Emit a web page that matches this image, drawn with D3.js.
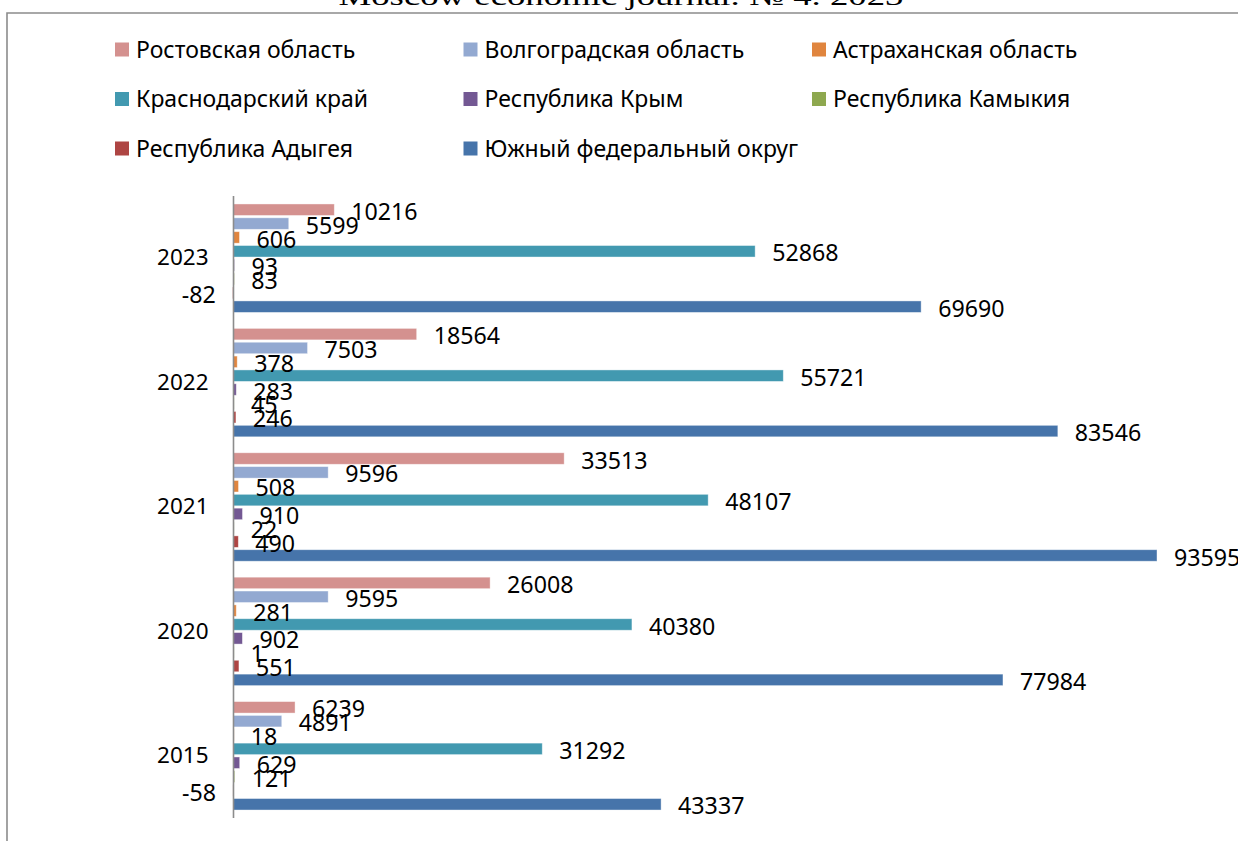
<!DOCTYPE html>
<html><head><meta charset="utf-8">
<script src="https://cdn.jsdelivr.net/npm/d3@7"></script>
<style>body{margin:0;background:#fff}svg{display:block}</style>
</head><body><svg id="c" width="1238" height="841"></svg>
<script>
const categories = ["2023", "2022", "2021", "2020", "2015"];
const seriesNames = ["Ростовская область", "Волгоградская область", "Астраханская область",
  "Краснодарский край", "Республика Крым", "Республика Камыкия", "Республика Адыгея",
  "Южный федеральный округ"];
const seriesColors = ["#D4918F", "#93A9D1", "#E0853E", "#4299B0", "#735893", "#8EA84F", "#AE4543", "#4674AA"];
// values per series, in category order 2023, 2022, 2021, 2020, 2015
const rostov     = [10216, 18564, 33513, 26008, 6239];
const volgograd  = [5599, 7503, 9596, 9595, 4891];
const astrakhan  = [606, 378, 508, 281, 18];
const krasnodar  = [52868, 55721, 48107, 40380, 31292];
const crimea     = [93, 283, 910, 902, 629];
const kalmykia   = [83, 45, 22, 1, 121];
const adygea     = [-82, 246, 490, 551, -58];
const southFD    = [69690, 83546, 93595, 77984, 43337];
const titleText = "Moscow economic journal. № 4. 2023";

const seriesValues = [rostov, volgograd, astrakhan, krasnodar, crimea, kalmykia, adygea, southFD];
const svg = d3.select("#c");
const FONT = "'Noto Sans', 'Open Sans', sans-serif";

// clipped title at the very top
svg.append("text").attr("x", 621).attr("y", 5).attr("text-anchor", "middle")
  .attr("font-family", "'Liberation Serif', 'Times New Roman', serif").attr("font-size", 26)
  .attr("textLength", 565).attr("lengthAdjust", "spacingAndGlyphs")
  .attr("fill", "#000").text(titleText);

// frame
svg.append("path").attr("d", "M7,841 L7,13 L1238,13").attr("fill", "none")
  .attr("stroke", "#8c8c8c").attr("stroke-width", 1.6);

// legend
const legendCols = [115, 463.5, 812];
const legendRows = [49.5, 99, 148.5];
const lg = svg.append("g");
seriesNames.forEach((name, i) => {
  const cx = legendCols[i % 3], cy = legendRows[Math.floor(i / 3)];
  lg.append("rect").attr("x", cx).attr("y", cy - 7).attr("width", 14).attr("height", 14)
    .attr("fill", seriesColors[i]);
  lg.append("text").attr("x", cx + 21).attr("y", cy).attr("dy", "0.35em")
    .attr("font-family", FONT).attr("font-size", 23).attr("fill", "#000").text(name);
});

// scales
const x = d3.scaleLinear().domain([0, 100000]).range([233.5, 233.5 + 986.7]);
const y0 = d3.scaleBand().domain(categories).range([196, 818]).padding(0);
const y1 = d3.scaleBand().domain(d3.range(seriesNames.length))
  .range([6.8, y0.bandwidth() - 6.8]).paddingInner(0.17).paddingOuter(0.085);

const data = [];
categories.forEach((c, ci) => {
  seriesValues.forEach((vals, si) => data.push({ c, si, v: vals[ci] }));
});

const g = svg.append("g");
g.selectAll("rect.bar").data(data).join("rect").attr("class", "bar")
  .attr("x", d => Math.min(x(0), x(d.v)))
  .attr("y", d => y0(d.c) + y1(d.si))
  .attr("width", d => Math.max(0.6, Math.abs(x(d.v) - x(0))))
  .attr("height", y1.bandwidth())
  .attr("fill", d => seriesColors[d.si])
  .attr("stroke", "#ffffff").attr("stroke-opacity", 0.5).attr("stroke-width", 0.8);

// data labels
g.selectAll("text.lbl").data(data).join("text").attr("class", "lbl")
  .attr("x", d => d.v < 0 ? x(d.v) - 17 : x(d.v) + 17)
  .attr("text-anchor", d => d.v < 0 ? "end" : "start")
  .attr("y", d => y0(d.c) + y1(d.si) + y1.bandwidth() / 2 + 2)
  .attr("dy", "0.35em")
  .attr("font-family", FONT).attr("font-size", 23.2).attr("fill", "#000")
  .text(d => d.v);

// category axis
const axis = d3.axisLeft(y0).tickSize(0).tickPadding(25);
const ag = svg.append("g").attr("transform", `translate(${x(0)},0)`).call(axis);
ag.select(".domain").attr("stroke", "#8c8c8c").attr("stroke-width", 1.6)
  .attr("d", `M0,196V818`);
ag.selectAll("text").attr("font-family", FONT).attr("font-size", 22.5).attr("fill", "#000");
</script></body></html>
